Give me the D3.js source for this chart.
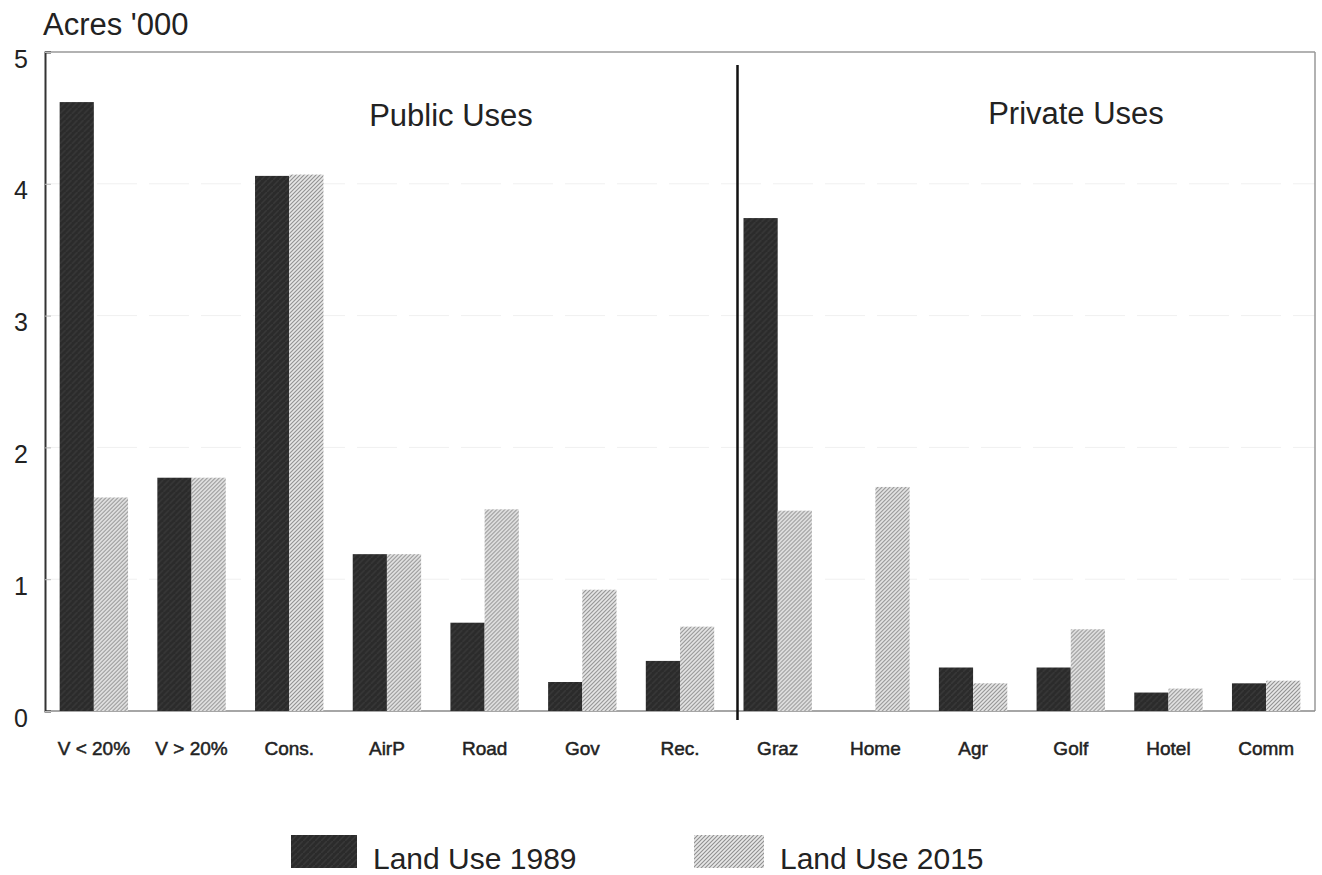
<!DOCTYPE html>
<html>
<head>
<meta charset="utf-8">
<script src="https://cdn.jsdelivr.net/npm/d3@7"></script>
<style>
    body { margin: 0; background: #fff; }
    text { font-family: "Liberation Sans", Arial, sans-serif; fill: #222; }
</style>
</head>
<body>
<svg id="chart"></svg>
<script>

// Data (thousands of acres)
var categories = ["V < 20%", "V > 20%", "Cons.", "AirP", "Road", "Gov", "Rec.",
                  "Graz", "Home", "Agr", "Golf", "Hotel", "Comm"];
var landUse1989 = [4.62, 1.77, 4.06, 1.19, 0.67, 0.22, 0.38, 3.74, 0.00, 0.33, 0.33, 0.14, 0.21];
var landUse2015 = [1.62, 1.77, 4.07, 1.19, 1.53, 0.92, 0.64, 1.52, 1.70, 0.21, 0.62, 0.17, 0.23];
var seriesNames = ["Land Use 1989", "Land Use 2015"];
var yTicks = [0, 1, 2, 3, 4, 5];
var groupNames = ["Public Uses", "Private Uses"];

var width = 1322, height = 875;
var plotLeft = 45, plotRight = 1315, plotTop = 52, plotBottom = 711;

var svg = d3.select("#chart")
    .attr("width", width)
    .attr("height", height);

// patterns for the two fills
var defs = svg.append("defs");

var dark = defs.append("pattern")
    .attr("id", "darkFill")
    .attr("patternUnits", "userSpaceOnUse")
    .attr("width", 6).attr("height", 6);
dark.append("rect").attr("width", 6).attr("height", 6).attr("fill", "#2b2b2b");
dark.append("path").attr("d", "M0,6 L6,0").attr("stroke", "#383838").attr("stroke-width", 1.5);

var hatch = defs.append("pattern")
    .attr("id", "hatchFill")
    .attr("patternUnits", "userSpaceOnUse")
    .attr("width", 4).attr("height", 4);
hatch.append("rect").attr("width", 4).attr("height", 4).attr("fill", "#e8e8e8");
hatch.append("path").attr("d", "M-1,1 L1,-1 M0,4 L4,0 M3,5 L5,3")
    .attr("stroke", "#909090").attr("stroke-width", 1.1);

// scales
var x = d3.scaleBand()
    .domain(categories)
    .range([plotLeft, plotRight])
    .paddingInner(0.3)
    .paddingOuter(0.15);

var xSeries = d3.scaleBand()
    .domain(seriesNames)
    .range([0, x.bandwidth()]);

var y = d3.scaleLinear()
    .domain([0, 5])
    .range([plotBottom, plotTop]);

// faint grid lines
svg.append("g").selectAll("line")
    .data(yTicks.filter(function (d) { return d > 0 && d < 5; }))
    .enter().append("line")
    .attr("x1", plotLeft).attr("x2", plotRight)
    .attr("y1", function (d) { return y(d); })
    .attr("y2", function (d) { return y(d); })
    .attr("stroke", "#f0f0f0")
    .attr("stroke-dasharray", "40,12");

// frame
svg.append("line").attr("x1", plotLeft).attr("x2", plotRight).attr("y1", plotTop).attr("y2", plotTop)
    .attr("stroke", "#999").attr("stroke-width", 1.5);
svg.append("line").attr("x1", plotRight).attr("x2", plotRight).attr("y1", plotTop).attr("y2", plotBottom)
    .attr("stroke", "#999").attr("stroke-width", 1.5);
svg.append("line").attr("x1", plotLeft).attr("x2", plotRight).attr("y1", plotBottom).attr("y2", plotBottom)
    .attr("stroke", "#888").attr("stroke-width", 1.5);

// bars
var rows = categories.map(function (c, i) {
    return { cat: c, values: [landUse1989[i], landUse2015[i]] };
});

var groups = svg.append("g").selectAll("g")
    .data(rows)
    .enter().append("g")
    .attr("transform", function (d) { return "translate(" + x(d.cat) + ",0)"; });

groups.selectAll("rect")
    .data(function (d) {
        return seriesNames.map(function (s, j) { return { series: s, value: d.values[j] }; });
    })
    .enter().append("rect")
    .attr("x", function (d) { return xSeries(d.series); })
    .attr("width", xSeries.bandwidth())
    .attr("y", function (d) { return y(d.value); })
    .attr("height", function (d) { return y(0) - y(d.value); })
    .attr("fill", function (d) { return d.series === seriesNames[0] ? "url(#darkFill)" : "url(#hatchFill)"; });

// y axis
var yAxis = d3.axisLeft(y).tickValues(yTicks).tickSize(-6).tickFormat(d3.format("d"));
var gy = svg.append("g")
    .attr("transform", "translate(" + plotLeft + ",0)")
    .call(yAxis);
gy.select(".domain").attr("stroke", "#333").attr("stroke-width", 2);
gy.selectAll(".tick line").attr("stroke", "#bbb");
gy.selectAll(".tick text")
    .attr("x", -24)
    .attr("dy", "0.6em")
    .attr("text-anchor", "middle")
    .style("font-size", "25px");

// x axis labels
var xAxis = d3.axisBottom(x).tickSize(0).tickPadding(0);
var gx = svg.append("g")
    .attr("transform", "translate(0," + plotBottom + ")")
    .call(xAxis);
gx.select(".domain").remove();
gx.selectAll(".tick text")
    .attr("y", 44)
    .attr("dy", 0)
    .style("font-size", "19px")
    .style("stroke", "#222")
    .style("stroke-width", "0.5px");

// divider between public and private uses
var divX = x("Graz") - 6;
svg.append("line")
    .attr("x1", divX).attr("x2", divX)
    .attr("y1", 65).attr("y2", 720)
    .attr("stroke", "#111").attr("stroke-width", 2.5);

// group titles
svg.append("text").attr("x", 451).attr("y", 126)
    .attr("text-anchor", "middle").style("font-size", "31px").text(groupNames[0]);
svg.append("text").attr("x", 1076).attr("y", 124)
    .attr("text-anchor", "middle").style("font-size", "31px").text(groupNames[1]);

// y axis title
svg.append("text").attr("x", 43).attr("y", 35)
    .style("font-size", "31px").text("Acres '000");

// legend
var legend = svg.append("g").selectAll("g")
    .data(seriesNames)
    .enter().append("g")
    .attr("transform", function (d, i) { return "translate(" + (i === 0 ? 291 : 694) + ",835)"; });

legend.append("rect")
    .attr("width", function (d, i) { return i === 0 ? 66 : 70; })
    .attr("height", 33)
    .attr("fill", function (d, i) { return i === 0 ? "url(#darkFill)" : "url(#hatchFill)"; });

legend.append("text")
    .attr("x", function (d, i) { return i === 0 ? 82 : 86; })
    .attr("y", 34)
    .style("font-size", "30px")
    .text(function (d) { return d; });

</script>
</body>
</html>
